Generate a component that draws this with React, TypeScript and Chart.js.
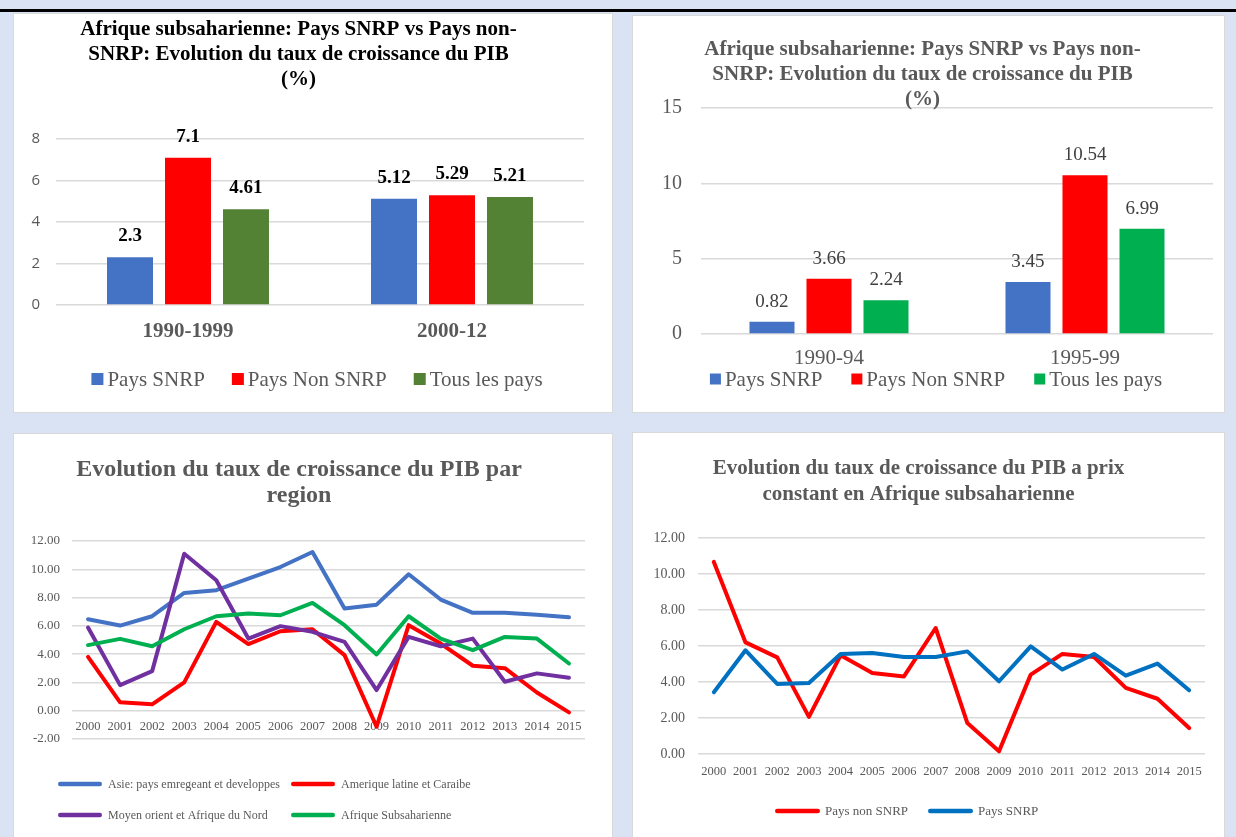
import React, { useEffect, useRef } from "react";
import { Chart, registerables } from "chart.js";
Chart.register(...registerables);

const SERIF = "'Liberation Serif', 'Times New Roman', serif";
const SANS = "'Open Sans', 'Liberation Sans', sans-serif";
const GRAY = "#595959";
const GRID = "#d9d9d9";

// ---- Chart 1 data ----
const periods1 = ["1990-1999", "2000-12"];
const snrp1 = [2.3, 5.12];
const nonSnrp1 = [7.1, 5.29];
const tous1 = [4.61, 5.21];
const seriesNames1 = ["Pays SNRP", "Pays Non SNRP", "Tous les pays"];
const title1 = [
  "Afrique subsaharienne: Pays SNRP vs Pays non-",
  "SNRP: Evolution du taux de croissance du PIB",
  "(%)",
];

// ---- Chart 2 data ----
const periods2 = ["1990-94", "1995-99"];
const snrp2 = [0.82, 3.45];
const nonSnrp2 = [3.66, 10.54];
const tous2 = [2.24, 6.99];
const seriesNames2 = ["Pays SNRP", "Pays Non SNRP", "Tous les pays"];
const title2 = title1;

// ---- Chart 3 data ----
const years = [
  "2000", "2001", "2002", "2003", "2004", "2005", "2006", "2007",
  "2008", "2009", "2010", "2011", "2012", "2013", "2014", "2015",
];
const asie = [6.47, 6.02, 6.68, 8.33, 8.52, 9.34, 10.16, 11.22, 7.22, 7.5, 9.65, 7.86, 6.92, 6.92, 6.78, 6.61];
const amerique = [3.81, 0.59, 0.45, 2.0, 6.28, 4.71, 5.62, 5.76, 3.93, -1.13, 6.05, 4.75, 3.18, 3.01, 1.29, -0.12];
const moyenOrient = [5.88, 1.81, 2.8, 11.1, 9.22, 5.1, 5.98, 5.58, 4.87, 1.46, 5.22, 4.56, 5.1, 2.05, 2.64, 2.33];
const afriqueSub = [4.64, 5.08, 4.56, 5.76, 6.68, 6.87, 6.75, 7.62, 6.05, 3.98, 6.68, 5.1, 4.28, 5.22, 5.1, 3.34];
const seriesNames3 = [
  "Asie: pays emregeant et developpes",
  "Amerique latine et Caraibe",
  "Moyen orient et Afrique du Nord",
  "Afrique Subsaharienne",
];
const title3 = ["Evolution du taux de croissance du PIB par", "region"];

// ---- Chart 4 data ----
const paysNonSnrp = [10.67, 6.2, 5.37, 2.06, 5.48, 4.5, 4.31, 7.0, 1.72, 0.15, 4.41, 5.56, 5.39, 3.67, 3.07, 1.44];
const paysSnrp = [3.43, 5.76, 3.89, 3.94, 5.56, 5.61, 5.39, 5.39, 5.7, 4.04, 5.98, 4.69, 5.56, 4.35, 5.02, 3.54];
const seriesNames4 = ["Pays non SNRP", "Pays SNRP"];
const title4 = ["Evolution du taux de croissance du PIB a prix", "constant en Afrique subsaharienne"];

// ---- plugins ----
const barLabels = {
  id: "barLabels",
  afterDatasetsDraw(chart: any, _args: any, o: any) {
    if (!o || !o.display) return;
    const ctx = chart.ctx;
    ctx.save();
    ctx.font = o.font;
    ctx.fillStyle = o.color;
    ctx.textAlign = "center";
    ctx.textBaseline = "middle";
    chart.data.datasets.forEach((ds: any, i: number) => {
      const meta = chart.getDatasetMeta(i);
      meta.data.forEach((el: any, j: number) => {
        ctx.fillText(String(ds.data[j]), el.x, el.y - o.offset);
      });
    });
    ctx.restore();
  },
};

const customLegend = {
  id: "customLegend",
  afterDraw(chart: any, _args: any, o: any) {
    if (!o || !o.display) return;
    const ctx = chart.ctx;
    ctx.save();
    ctx.font = o.font;
    ctx.textBaseline = "middle";
    ctx.textAlign = "left";
    const ds = chart.data.datasets;
    const pos: { x: number; y: number }[] = [];
    if (o.columns) {
      ds.forEach((_d: any, i: number) => {
        pos.push({ x: o.columns[i % o.columns.length], y: o.rows[Math.floor(i / o.columns.length)] });
      });
    } else {
      const widths = ds.map((d: any) => o.markW + o.textGap + ctx.measureText(d.label).width);
      const total = widths.reduce((a: number, b: number) => a + b, 0) + o.itemGap * (ds.length - 1);
      let x = o.centerX - total / 2;
      ds.forEach((_d: any, i: number) => {
        pos.push({ x, y: o.rows[0] });
        x += widths[i] + o.itemGap;
      });
    }
    ds.forEach((d: any, i: number) => {
      const { x, y } = pos[i];
      const color = o.mark === "box" ? d.backgroundColor : d.borderColor;
      if (o.mark === "box") {
        ctx.fillStyle = color;
        ctx.fillRect(x, y - o.markH / 2, o.markW, o.markH);
      } else {
        ctx.strokeStyle = color;
        ctx.lineWidth = o.lineWidth;
        ctx.lineCap = "round";
        ctx.beginPath();
        ctx.moveTo(x + o.lineWidth / 2, y);
        ctx.lineTo(x + o.markW - o.lineWidth / 2, y);
        ctx.stroke();
      }
      ctx.fillStyle = o.color;
      ctx.fillText(d.label, x + o.markW + o.textGap, y + 1);
    });
    ctx.restore();
  },
};

// ---- configs ----
function config1(): any {
  return {
    type: "bar",
    data: {
      labels: periods1,
      datasets: [
        { label: seriesNames1[0], data: snrp1, backgroundColor: "#4472c4" },
        { label: seriesNames1[1], data: nonSnrp1, backgroundColor: "#ff0000" },
        { label: seriesNames1[2], data: tous1, backgroundColor: "#548235" },
      ],
    },
    options: {
      responsive: false,
      animation: false,
      layout: { padding: { left: 0, right: 29, top: 0, bottom: 0 } },
      datasets: { bar: { categoryPercentage: 0.659, barPercentage: 0.793 } },
      scales: {
        x: {
          grid: { display: false },
          border: { display: false },
          ticks: { font: { family: SERIF, size: 21, weight: "bold" }, color: GRAY, padding: 6 },
          afterFit: (s: any) => { s.height = 108; },
        },
        y: {
          min: 0,
          max: 8,
          ticks: { stepSize: 2, font: { family: SANS, size: 15 }, color: GRAY, padding: 16 },
          grid: { color: GRID, lineWidth: 1.5, drawTicks: false },
          border: { display: false },
          afterFit: (s: any) => { s.width = 43; },
        },
      },
      plugins: {
        legend: { display: false },
        tooltip: { enabled: false },
        title: {
          display: true,
          text: title1,
          color: "#000",
          font: { family: SERIF, size: 21, weight: "bold", lineHeight: 25 / 21 },
          padding: { top: 4, bottom: 47 },
        },
        barLabels: { display: true, font: `bold 19px ${SERIF}`, color: "#000", offset: 21 },
        customLegend: {
          display: true, mark: "box", markW: 12, markH: 12, textGap: 4, itemGap: 27,
          centerX: 304, rows: [366], font: `21px ${SERIF}`, color: GRAY,
        },
      },
    },
    plugins: [barLabels, customLegend],
  };
}

function config2(): any {
  return {
    type: "bar",
    data: {
      labels: periods2,
      datasets: [
        { label: seriesNames2[0], data: snrp2, backgroundColor: "#4472c4" },
        { label: seriesNames2[1], data: nonSnrp2, backgroundColor: "#ff0000" },
        { label: seriesNames2[2], data: tous2, backgroundColor: "#00b050" },
      ],
    },
    options: {
      responsive: false,
      animation: false,
      layout: { padding: { left: 0, right: 12, top: 0, bottom: 0 } },
      datasets: { bar: { categoryPercentage: 0.668, barPercentage: 0.79 } },
      scales: {
        x: {
          grid: { display: false },
          border: { display: false },
          ticks: { font: { family: SERIF, size: 21 }, color: GRAY, padding: 4 },
          afterFit: (s: any) => { s.height = 79; },
        },
        y: {
          min: 0,
          max: 15,
          ticks: { stepSize: 5, font: { family: SERIF, size: 20 }, color: GRAY, padding: 19 },
          grid: { color: GRID, lineWidth: 1.5, drawTicks: false },
          border: { display: false },
          afterFit: (s: any) => { s.width = 69; },
        },
      },
      plugins: {
        legend: { display: false },
        tooltip: { enabled: false },
        title: {
          display: true,
          text: title2,
          color: GRAY,
          font: { family: SERIF, size: 21, weight: "bold", lineHeight: 25 / 21 },
          padding: { top: 22, bottom: -4 },
        },
        barLabels: { display: true, font: `19px ${SERIF}`, color: "#404040", offset: 20 },
        customLegend: {
          display: true, mark: "box", markW: 11, markH: 11, textGap: 4, itemGap: 29,
          centerX: 304, rows: [364], font: `21px ${SERIF}`, color: GRAY,
        },
      },
    },
    plugins: [barLabels, customLegend],
  };
}

function lineDs(label: string, data: number[], color: string, order: number) {
  return {
    label, data, borderColor: color, backgroundColor: color, borderWidth: 4,
    pointRadius: 0, tension: 0, fill: false, borderCapStyle: "round", borderJoinStyle: "round", order,
  };
}

function config3(): any {
  return {
    type: "line",
    data: {
      labels: years,
      datasets: [
        lineDs(seriesNames3[0], asie, "#4472c4", 4),
        lineDs(seriesNames3[1], amerique, "#ff0000", 3),
        lineDs(seriesNames3[2], moyenOrient, "#7030a0", 2),
        lineDs(seriesNames3[3], afriqueSub, "#00b050", 1),
      ],
    },
    options: {
      responsive: false,
      animation: false,
      layout: { padding: { left: 0, right: 28, top: 0, bottom: 114 } },
      scales: {
        x: {
          type: "category",
          offset: true,
          position: { y: 0 },
          grid: { display: false },
          border: { display: false },
          ticks: { font: { family: SERIF, size: 12.5 }, color: GRAY, padding: 1, autoSkip: false, maxRotation: 0 },
        },
        y: {
          min: -2,
          max: 12,
          ticks: { stepSize: 2, font: { family: SERIF, size: 13 }, color: GRAY, padding: 12, callback: (v: any) => Number(v).toFixed(2) },
          grid: { color: GRID, lineWidth: 1.5, drawTicks: false },
          border: { display: false },
          afterFit: (s: any) => { s.width = 59; },
        },
      },
      plugins: {
        legend: { display: false },
        tooltip: { enabled: false },
        title: {
          display: true,
          text: title3,
          color: GRAY,
          font: { family: SERIF, size: 24, weight: "bold", lineHeight: 26 / 24 },
          padding: { top: 24, bottom: 32 },
        },
        customLegend: {
          display: true, mark: "line", markW: 44, lineWidth: 4.5, textGap: 6,
          columns: [45, 278], rows: [351, 382], font: `12px ${SERIF}`, color: GRAY,
        },
      },
    },
    plugins: [customLegend],
  };
}

function config4(): any {
  return {
    type: "line",
    data: {
      labels: years,
      datasets: [
        lineDs(seriesNames4[0], paysNonSnrp, "#ff0000", 2),
        lineDs(seriesNames4[1], paysSnrp, "#0070c0", 1),
      ],
    },
    options: {
      responsive: false,
      animation: false,
      layout: { padding: { left: 0, right: 20, top: 0, bottom: 0 } },
      scales: {
        x: {
          type: "category",
          offset: true,
          grid: { display: false },
          border: { display: false },
          ticks: { font: { family: SERIF, size: 12.5 }, color: GRAY, padding: 2, autoSkip: false, maxRotation: 0 },
          afterFit: (s: any) => { s.height = 98; },
        },
        y: {
          min: 0,
          max: 12,
          ticks: { stepSize: 2, font: { family: SERIF, size: 14 }, color: GRAY, padding: 13, callback: (v: any) => Number(v).toFixed(2) },
          grid: { color: GRID, lineWidth: 1.5, drawTicks: false },
          border: { display: false },
          afterFit: (s: any) => { s.width = 66; },
        },
      },
      plugins: {
        legend: { display: false },
        tooltip: { enabled: false },
        title: {
          display: true,
          text: title4,
          color: GRAY,
          font: { family: SERIF, size: 21, weight: "bold", lineHeight: 26 / 21 },
          padding: { top: 24, bottom: 30 },
        },
        customLegend: {
          display: true, mark: "line", markW: 45, lineWidth: 4.5, textGap: 5,
          columns: [143, 296], rows: [379], font: `13px ${SERIF}`, color: GRAY,
        },
      },
    },
    plugins: [customLegend],
  };
}

function Panel({ left, top, width, height, make }: { left: number; top: number; width: number; height: number; make: () => any }) {
  const ref = useRef<HTMLCanvasElement>(null);
  useEffect(() => {
    const chart = new Chart(ref.current as HTMLCanvasElement, make());
    return () => chart.destroy();
  }, []);
  return (
    <>
      <div
        style={{
          position: "absolute", left, top, width, height, background: "#fff",
          border: "1px solid #d9d9d9", boxSizing: "border-box",
        }}
      />
      <canvas
        ref={ref}
        width={width}
        height={height}
        style={{ position: "absolute", left, top, width, height }}
      />
    </>
  );
}

export default function App() {
  return (
    <div
      style={{
        position: "absolute", left: 0, top: 0, width: 1236, height: 837,
        background: "#dae3f3", overflow: "hidden",
      }}
    >
      <div style={{ position: "absolute", left: 0, top: 9, width: 1236, height: 3, background: "#000" }} />
      <Panel left={13} top={13} width={600} height={400} make={config1} />
      <Panel left={632} top={15} width={593} height={398} make={config2} />
      <Panel left={13} top={433} width={600} height={420} make={config3} />
      <Panel left={632} top={432} width={593} height={420} make={config4} />
    </div>
  );
}
